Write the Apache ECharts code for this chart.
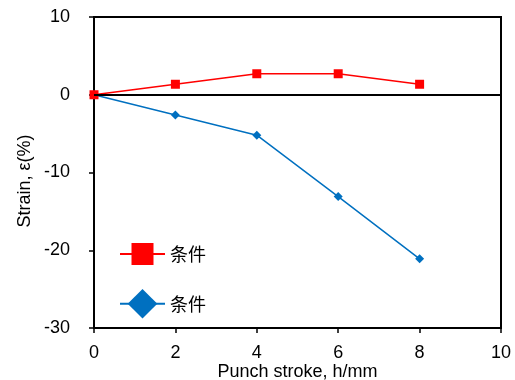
<!DOCTYPE html>
<html>
<head>
<meta charset="utf-8">
<script src="https://cdn.jsdelivr.net/npm/echarts@6/dist/echarts.min.js"></script>
<style>html,body{margin:0;padding:0;background:#fff}#c{width:515px;height:380px}</style>
</head>
<body>
<div id="c"></div>
<script>
const stroke = [0, 2, 4, 6, 8];
const redValues = [0, 1.35, 2.7, 2.7, 1.35];
const blueValues = [0, -2.6, -5.2, -13.1, -21.1];
const legendLabel = '条件';
const xTicks = [0, 2, 4, 6, 8, 10];
const yTicks = [-30, -20, -10, 0, 10];

const chart = echarts.init(document.getElementById('c'), null, {renderer: 'canvas'});
const font = 'Liberation Sans';
chart.setOption({
  animation: false,
  grid: {left: 94, right: 14, top: 17, bottom: 52, containLabel: false, outerBoundsMode: 'none',
         show: true, borderColor: '#000', borderWidth: 2, backgroundColor: 'transparent'},
  legend: [
    {data: ['A'], left: 114, top: 238, orient: 'vertical', itemWidth: 45, itemHeight: 27.5, itemGap: 4,
     formatter: () => legendLabel, textStyle: {fontFamily: 'Noto Sans CJK SC', fontSize: 18, color: '#000'}},
    {data: ['B'], left: 114, top: 284, orient: 'vertical', itemWidth: 45, itemHeight: 37, itemGap: 4,
     formatter: () => legendLabel, textStyle: {fontFamily: 'Noto Sans CJK SC', fontSize: 18, color: '#000'}}
  ],
  xAxis: {
    type: 'value', min: xTicks[0], max: xTicks[xTicks.length - 1], interval: 2,
    name: 'Punch stroke, h/mm', nameLocation: 'middle', nameGap: 35, nameMoveOverlap: false,
    nameTextStyle: {fontFamily: font, fontSize: 18, color: '#000'},
    axisLine: {show: true, onZero: false, lineStyle: {color: '#000', width: 2}},
    axisTick: {show: true, inside: false, length: 5, lineStyle: {color: '#000', width: 1.5}},
    axisLabel: {fontFamily: font, fontSize: 18, color: '#000', margin: 16},
    splitLine: {show: false}
  },
  yAxis: {
    type: 'value', min: yTicks[0], max: yTicks[yTicks.length - 1], interval: 10,
    name: 'Strain, ε(%)', nameLocation: 'middle', nameGap: 60, nameMoveOverlap: false,
    nameTextStyle: {fontFamily: font, fontSize: 18, color: '#000', padding: [0, 0, 0, -17]},
    axisLine: {show: true, onZero: false, lineStyle: {color: '#000', width: 2}},
    axisTick: {show: true, inside: false, length: 5, lineStyle: {color: '#000', width: 1.5}},
    axisLabel: {fontFamily: font, fontSize: 18, color: '#000', margin: 24},
    splitLine: {show: false}
  },
  series: [
    {
      name: 'B', type: 'line', data: stroke.map((x, i) => [x, blueValues[i]]),
      symbol: 'diamond', symbolSize: 9, color: '#0070C0',
      lineStyle: {color: '#0070C0', width: 1.5}, itemStyle: {color: '#0070C0'},
      markLine: {silent: true, symbol: 'none', label: {show: false},
        lineStyle: {color: '#000', width: 2, type: 'solid'}, data: [{yAxis: 0}]}
    },
    {
      name: 'A', type: 'line', data: stroke.map((x, i) => [x, redValues[i]]),
      symbol: 'rect', symbolSize: 9, color: '#FF0000',
      lineStyle: {color: '#FF0000', width: 1.5}, itemStyle: {color: '#FF0000'}
    }
  ]
});
</script>
</body>
</html>
